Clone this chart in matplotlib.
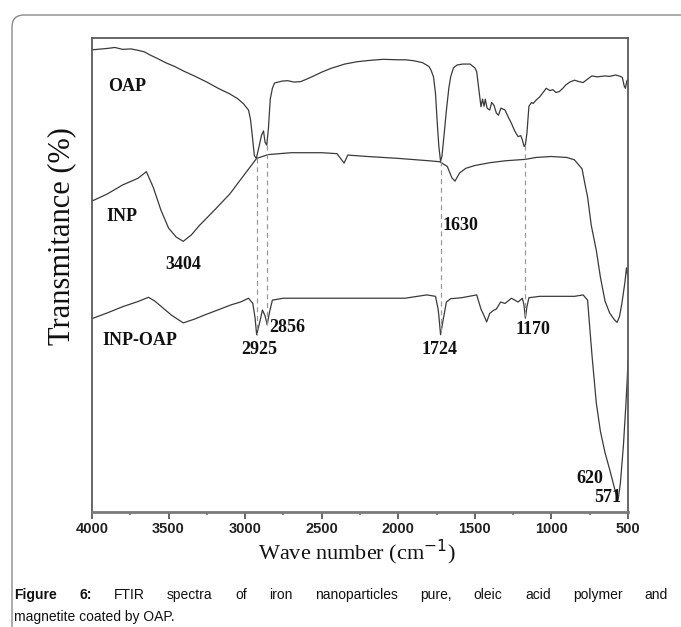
import matplotlib
matplotlib.use("Agg")
import matplotlib.pyplot as plt
from matplotlib.patches import FancyBboxPatch
from matplotlib.ticker import MultipleLocator

# ---------------- data (0 = bottom of frame, 100 = top) ----------------
oap_wn = [4000, 3900, 3850, 3800, 3745, 3700, 3660, 3620, 3574, 3520, 3461, 3400, 3319, 3250,
          3177, 3100, 3049, 3010, 2978, 2965, 2955, 2940, 2927, 2910, 2893, 2880, 2870, 2859,
          2848, 2836, 2822, 2808, 2760, 2723, 2680, 2637, 2600, 2552, 2500, 2439, 2350, 2268,
          2180, 2098, 2000, 1950, 1899, 1842, 1800, 1786, 1770, 1757, 1745, 1735, 1724, 1715,
          1700, 1686, 1670, 1658, 1640, 1616, 1580, 1531, 1500, 1488, 1475, 1460, 1450, 1440,
          1432, 1420, 1403, 1390, 1375, 1360, 1346, 1330, 1303, 1280, 1261, 1240, 1218, 1200,
          1190, 1178, 1170, 1160, 1147, 1130, 1119, 1100, 1076, 1050, 1034, 1010, 991, 970,
          949, 925, 906, 880, 849, 820, 793, 765, 736, 700, 651, 620, 580, 550, 537, 525,
          517, 508, 500]
oap_t = [97.5, 97.8, 98.0, 97.6, 97.7, 97.4, 97.1, 96.4, 95.7, 94.8, 94.0, 93.0, 91.8, 90.7,
         89.4, 88.2, 87.2, 86.1, 84.8, 82.8, 79.9, 75.2, 74.6, 77.0, 79.5, 80.4, 78.0, 77.4,
         80.9, 87.1, 89.4, 90.5, 90.9, 91.0, 90.7, 90.8, 91.3, 92.0, 92.8, 93.6, 94.5, 95.0,
         95.3, 95.5, 95.4, 95.4, 95.2, 94.8, 94.0, 93.2, 91.8, 88.3, 81.8, 77.1, 74.0, 75.0,
         79.9, 84.7, 89.4, 91.8, 93.7, 94.3, 94.5, 94.5, 93.7, 92.9, 89.4, 85.5, 87.1, 85.6,
         87.1, 85.2, 84.8, 86.4, 85.8, 84.2, 83.7, 85.2, 84.8, 83.2, 82.0, 80.4, 79.2, 79.4,
         78.5, 77.1, 77.5, 79.9, 85.6, 86.4, 86.2, 86.9, 87.6, 88.7, 89.4, 88.9, 89.1, 88.5,
         88.7, 89.4, 90.1, 90.7, 91.1, 90.8, 90.6, 91.3, 92.0, 91.8, 92.0, 91.9, 92.2, 91.9,
         91.7, 89.9, 89.4, 90.9, 91.3]

inp_wn = [4000, 3900, 3800, 3700, 3645, 3600, 3550, 3500, 3450, 3404, 3350, 3300, 3200, 3100,
          3000, 2925, 2850, 2700, 2500, 2400, 2370, 2354, 2330, 2200, 2000, 1800, 1730, 1680,
          1650, 1630, 1600, 1560, 1500, 1400, 1300, 1170, 1100, 1000, 900, 850, 800, 780, 764,
          740, 707, 680, 650, 620, 590, 571, 555, 540, 520, 510, 500]
inp_t = [65.6, 67.1, 69.0, 70.4, 71.8, 68.5, 63.7, 59.9, 58.0, 57.1, 58.5, 60.4, 63.7, 67.1,
         71.4, 74.6, 75.4, 75.8, 75.8, 75.6, 74.3, 73.6, 75.3, 75.0, 74.6, 74.1, 73.9, 72.9,
         70.5, 69.8, 71.5, 72.5, 73.1, 73.7, 74.1, 74.4, 74.8, 75.0, 74.8, 74.3, 72.4, 69.0,
         66.5, 60.5, 55.2, 49.5, 44.5, 42.0, 40.6, 40.0, 41.3, 44.0, 48.5, 51.5, 49.5]

mix_wn = [4000, 3900, 3801, 3700, 3631, 3590, 3546, 3480, 3404, 3330, 3262, 3180, 3092, 3030,
          2978, 2950, 2935, 2925, 2905, 2887, 2870, 2856, 2840, 2822, 2751, 2600, 2325, 2100,
          1956, 1814, 1757, 1740, 1735, 1724, 1705, 1686, 1658, 1587, 1488, 1460, 1440, 1423,
          1403, 1380, 1360, 1332, 1303, 1261, 1218, 1190, 1180, 1170, 1160, 1147, 1076, 962,
          849, 793, 764, 735, 707, 680, 650, 620, 600, 580, 565, 550, 530, 515, 505, 500]
mix_t = [40.8, 42.0, 43.3, 44.4, 45.3, 44.5, 43.3, 41.5, 39.9, 40.7, 41.6, 42.6, 43.7, 44.3,
         45.1, 44.0, 40.9, 37.4, 40.0, 42.6, 41.4, 39.5, 42.3, 44.7, 45.1, 45.1, 45.1, 45.1,
         45.1, 45.8, 45.5, 42.8, 41.4, 37.4, 40.9, 44.3, 45.0, 45.2, 45.8, 42.8, 41.4, 40.1,
         41.9, 42.5, 42.8, 44.3, 44.0, 45.1, 44.3, 45.1, 43.8, 40.9, 43.3, 45.2, 45.5, 45.5,
         45.5, 45.8, 44.7, 33.0, 23.0, 17.0, 12.5, 9.0, 6.5, 4.0, 2.5, 6.0, 14.0, 22.0,
         28.0, 32.0]

peak_lines = [2925, 2856, 1724, 1170]
peak_top = [74.6, 77.4, 74.0, 77.5]
peak_bottom = [37.4, 39.5, 37.4, 40.9]

curve_names = ["OAP", "INP", "INP-OAP"]
name_wn = [3896, 3909, 3935]
name_t = [89.8, 62.4, 36.1]

peak_labels = ["3404", "1630", "2856", "2925", "1724", "1170", "620", "571"]
peak_label_wn = [3406, 1597, 2727, 2910, 1728, 1120, 748, 631]
peak_label_t = [52.3, 60.5, 38.9, 34.2, 34.2, 38.6, 7.0, 3.0]

x_ticks = [4000, 3500, 3000, 2500, 2000, 1500, 1000, 500]

caption1 = ["Figure", "6:", "FTIR", "spectra", "of", "iron", "nanoparticles", "pure,",
            "oleic", "acid", "polymer", "and"]
caption1_bold = [True, True] + [False] * 10
caption2 = "magnetite coated by OAP."

# ---------------- figure ----------------
W, H = 681, 627
fig = plt.figure(figsize=(W / 100, H / 100), dpi=100)
fig.patch.set_facecolor("white")

# outer rounded border (top-left corner visible, runs off right & bottom)
border = FancyBboxPatch((12 / 100, -0.5), 7.5, (H - 15) / 100 + 0.5,
                        boxstyle="round,pad=0,rounding_size=0.12",
                        transform=fig.dpi_scale_trans, fill=False,
                        edgecolor="#8a8a8a", linewidth=1.0)
fig.add_artist(border)

top_px, bot_px = 38, 512
ax = fig.add_axes([92 / W, 1 - bot_px / H, (628 - 92) / W, (bot_px - top_px) / H])
ax.set_xlim(4000, 500)
ax.set_ylim(0, 100)

line_color = "#3a3a3a"
ax.plot(oap_wn, oap_t, color=line_color, lw=0.9)
ax.plot(inp_wn, inp_t, color=line_color, lw=0.9)
ax.plot(mix_wn, mix_t, color=line_color, lw=0.9)

for wn, t0, t1 in zip(peak_lines, peak_top, peak_bottom):
    ax.plot([wn, wn], [t0, t1], color="#9a9a9a", lw=0.9, ls=(0, (4, 3)))

serif = ["Liberation Serif", "DejaVu Serif"]
for name, wn, t in zip(curve_names, name_wn, name_t):
    ax.text(wn, t, name, family=serif, weight="bold", fontsize=13,
            ha="left", va="center", color="#111111")
for lab, wn, t in zip(peak_labels, peak_label_wn, peak_label_t):
    ax.text(wn, t, lab, family=serif, weight="bold", fontsize=13,
            ha="center", va="center", color="#111111")

# spines / ticks
for s in ax.spines.values():
    s.set_color("#5a5a5a")
    s.set_linewidth(1.3)
ax.spines["bottom"].set_linewidth(2.0)
ax.spines["bottom"].set_color("#7a7a7a")
ax.set_yticks([])
ax.set_xticks(x_ticks)
ax.xaxis.set_minor_locator(MultipleLocator(250))
ax.tick_params(axis="x", which="major", direction="out", length=5, width=1.3,
               color="#5a5a5a", pad=2)
ax.tick_params(axis="x", which="minor", direction="out", length=2.5, width=1.3,
               color="#7a7a7a")
for lbl in ax.get_xticklabels():
    lbl.set_family(["Liberation Sans", "DejaVu Sans"])
    lbl.set_weight("bold")
    lbl.set_fontsize(10.5)
    lbl.set_color("#222222")

fig.text(357 / W, 1 - 552 / H, "Wave number (cm$^{-1}$)", family=serif, fontsize=16,
         ha="center", va="center", color="#111111")
fig.text(62 / W, 1 - 236 / H, "Transmitance (%)", family=serif, fontsize=22,
         rotation=90, ha="center", va="center", color="#111111")

# caption, justified first line
fig.canvas.draw()
renderer = fig.canvas.get_renderer()
sans = ["Liberation Sans", "DejaVu Sans"]
texts = []
for word, b in zip(caption1, caption1_bold):
    t = fig.text(0, 1 - 595 / H, word, family=sans, fontsize=10,
                 weight="bold" if b else "normal", va="center", ha="left",
                 color="#111111")
    texts.append(t)
widths = [t.get_window_extent(renderer).width for t in texts]
x0, x1 = 14, 668
gap = (x1 - x0 - sum(widths)) / (len(texts) - 1)
x = x0
for t, w in zip(texts, widths):
    t.set_x(x / W)
    x += w + gap
fig.text(14 / W, 1 - 617 / H, caption2, family=sans, fontsize=10,
         va="center", ha="left", color="#111111")

fig.savefig("out.png", dpi=100)
